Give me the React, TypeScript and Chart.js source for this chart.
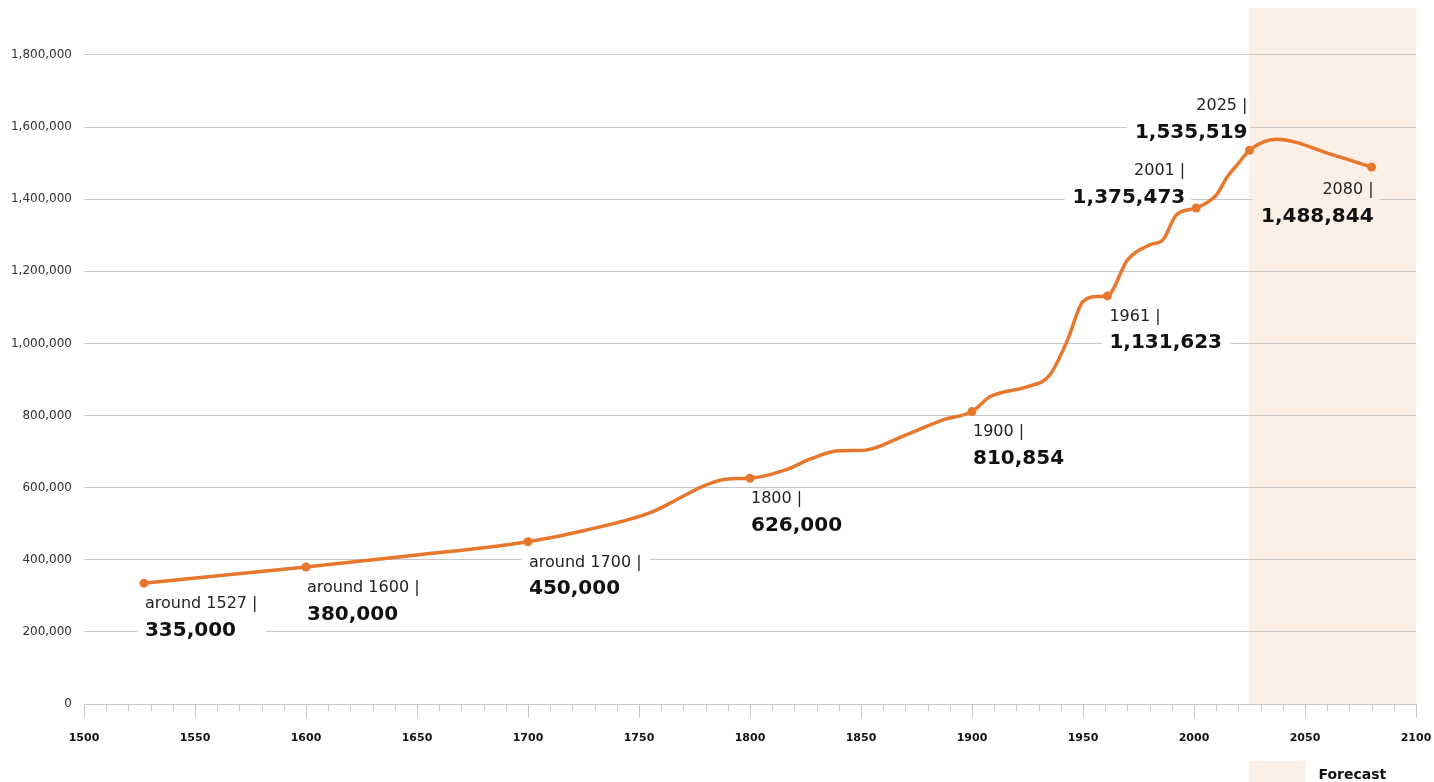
import React, { useEffect, useRef } from "react";
import { Chart, registerables } from "chart.js";

Chart.register(...registerables);

// ---- data ----
const lineYears = [
  1527, 1600, 1650, 1700, 1726, 1756, 1768, 1780, 1790, 1800, 1816, 1827, 1840, 1852, 1868, 1887,
  1900, 1908, 1913, 1925, 1935, 1943, 1950, 1957, 1961, 1970, 1980, 1986, 1992, 2001, 2010, 2015,
  2020, 2025, 2037, 2063, 2080,
];
const lineValues = [
  335000, 380000, 413000, 450000, 482000, 533000, 570000, 607000, 624000, 626000, 649000, 679000,
  702000, 704000, 740000, 788000, 810854, 852000, 863000, 880000, 912000, 1009000, 1116000, 1130000,
  1131623, 1231000, 1273000, 1287000, 1356000, 1375473, 1411000, 1462000, 1499000, 1535519, 1566000,
  1522000, 1488844,
];

const labelYears = [1527, 1600, 1700, 1800, 1900, 1961, 2001, 2025, 2080];
const labelValues = [335000, 380000, 450000, 626000, 810854, 1131623, 1375473, 1535519, 1488844];
const labelTitles = [
  "around 1527",
  "around 1600",
  "around 1700",
  "1800",
  "1900",
  "1961",
  "2001",
  "2025",
  "2080",
];

const forecastStart = 2025;
const forecastEnd = 2100;
const forecastLabel = "Forecast";

const xMin = 1500;
const xMax = 2100;
const xStep = 10;
const xLabelStep = 50;
const yMin = 0;
const yMax = 1930000;
const yTicks = [0, 200000, 400000, 600000, 800000, 1000000, 1200000, 1400000, 1600000, 1800000];

// ---- styles ----
const ORANGE = "#E8772E";
const BAND = "#FCF0E6";
const GRID = "#C8C8C8";
const FONT = "'DejaVu Sans', sans-serif";

// label placement (style only): align, dx, dy of first / second line centre
const labelPlacement: { align: "left" | "right"; dx: number; dy1: number; dy2: number }[] = [
  { align: "left", dx: 1, dy1: 21, dy2: 48 },
  { align: "left", dx: 1, dy1: 21, dy2: 48 },
  { align: "left", dx: 1, dy1: 21, dy2: 47 },
  { align: "left", dx: 1, dy1: 21, dy2: 48 },
  { align: "left", dx: 1, dy1: 20, dy2: 47 },
  { align: "left", dx: 2, dy1: 21, dy2: 47 },
  { align: "right", dx: -11, dy1: -37, dy2: -10 },
  { align: "right", dx: -2, dy1: -44, dy2: -17 },
  { align: "right", dx: 2, dy1: 23, dy2: 50 },
];

const fmt = (v: number) => v.toLocaleString("en-US");

const bandPlugin = {
  id: "band",
  beforeDraw(chart: any) {
    const { ctx, chartArea, scales } = chart;
    const x0 = scales.x.getPixelForValue(forecastStart);
    const x1 = scales.x.getPixelForValue(forecastEnd);
    ctx.save();
    ctx.fillStyle = BAND;
    ctx.fillRect(x0, chartArea.top, x1 - x0, chartArea.bottom - chartArea.top);
    // legend
    ctx.fillRect(x0, 761, 56, 40);
    ctx.fillStyle = "#111";
    ctx.font = `bold 14px ${FONT}`;
    ctx.textBaseline = "middle";
    ctx.textAlign = "left";
    ctx.fillText(forecastLabel, x0 + 69, 775);
    ctx.restore();
  },
};

const minorTickPlugin = {
  id: "minorTicks",
  afterDraw(chart: any) {
    const { ctx, scales, chartArea } = chart;
    const xs = scales.x;
    ctx.save();
    ctx.strokeStyle = GRID;
    ctx.lineWidth = 1;
    for (let v = xMin; v <= xMax; v += xStep) {
      if (v % xLabelStep === 0) continue;
      const px = Math.round(xs.getPixelForValue(v)) + 0.5;
      ctx.beginPath();
      ctx.moveTo(px, chartArea.bottom);
      ctx.lineTo(px, chartArea.bottom + 7);
      ctx.stroke();
    }
    ctx.restore();
  },
};

const labelPlugin = {
  id: "valueLabels",
  beforeDatasetsDraw(chart: any) {
    const { ctx, scales } = chart;
    const bandX = scales.x.getPixelForValue(forecastStart);
    ctx.save();
    labelYears.forEach((yr, i) => {
      const p = labelPlacement[i];
      const px = scales.x.getPixelForValue(yr);
      const py = scales.y.getPixelForValue(labelValues[i]);
      const t1 = `${labelTitles[i]} |`;
      const t2 = fmt(labelValues[i]);
      const f1 = `16px ${FONT}`;
      const f2 = `bold 20px ${FONT}`;
      ctx.font = f1;
      const w1 = ctx.measureText(t1).width;
      ctx.font = f2;
      const w2 = ctx.measureText(t2).width;
      const w = Math.max(w1, w2);
      const tx = px + p.dx;
      const y1 = py + p.dy1;
      const y2 = py + p.dy2;
      const bl = p.align === "left" ? tx - 7 : tx - w - 8;
      let br = p.align === "left" ? tx + w + 8 : tx + 6;
      const inBand = yr > forecastStart;
      if (!inBand && br > bandX) br = bandX;
      ctx.fillStyle = inBand ? BAND : "#FFFFFF";
      ctx.fillRect(bl, y1 - 11, br - bl, y2 - y1 + 25);
      ctx.textBaseline = "middle";
      ctx.textAlign = p.align;
      ctx.fillStyle = "#222";
      ctx.font = f1;
      ctx.fillText(t1, tx, y1);
      ctx.fillStyle = "#111";
      ctx.font = f2;
      ctx.fillText(t2, tx, y2);
    });
    ctx.restore();
  },
};

export default function App() {
  const ref = useRef<HTMLCanvasElement | null>(null);

  useEffect(() => {
    document.body.style.margin = "0";
    const canvas = ref.current;
    if (!canvas) return;
    const chart = new Chart(canvas, {
      type: "line",
      data: {
        datasets: [
          {
            label: "Population",
            data: lineYears.map((x, i) => ({ x, y: lineValues[i] })),
            borderColor: ORANGE,
            borderWidth: 3.5,
            pointRadius: 0,
            cubicInterpolationMode: "monotone",
            fill: false,
            order: 2,
          },
          {
            label: "Markers",
            data: labelYears.map((x, i) => ({ x, y: labelValues[i] })),
            showLine: false,
            pointRadius: 4.5,
            pointBackgroundColor: ORANGE,
            pointBorderWidth: 0,
            borderColor: ORANGE,
            order: 1,
          },
        ],
      },
      options: {
        animation: false,
        responsive: false,
        maintainAspectRatio: false,
        layout: { padding: { left: 8, right: 18, top: 8, bottom: 38 } },
        plugins: {
          legend: { display: false },
          tooltip: { enabled: false },
        },
        scales: {
          x: {
            type: "linear",
            min: xMin,
            max: xMax,
            afterFit: (s: any) => {
              s.height = 40;
              s.paddingLeft = 0;
              s.paddingRight = 0;
            },
            ticks: {
              stepSize: xStep,
              autoSkip: false,
              maxRotation: 0,
              padding: 14,
              color: "#111",
              font: { family: FONT, size: 11, weight: "bold" },
              callback: (v: any) => (Number(v) % xLabelStep === 0 ? String(v) : ""),
            },
            grid: {
              drawOnChartArea: false,
              drawTicks: true,
              tickLength: 14,
              tickColor: (c: any) =>
                c.tick && Number(c.tick.value) % xLabelStep === 0 ? GRID : "rgba(0,0,0,0)",
            },
            border: { display: true, color: GRID },
          },
          y: {
            min: yMin,
            max: yMax,
            afterFit: (s: any) => {
              s.width = 76;
              s.paddingTop = 0;
              s.paddingBottom = 0;
            },
            afterBuildTicks: (s: any) => {
              s.ticks = yTicks.map((v) => ({ value: v }));
            },
            ticks: {
              padding: 12,
              color: "#333",
              font: { family: FONT, size: 12 },
              callback: (v: any) => fmt(Number(v)),
            },
            grid: { color: GRID, drawTicks: false },
            border: { display: false },
          },
        },
      },
      plugins: [bandPlugin, labelPlugin, minorTickPlugin],
    } as any);
    return () => chart.destroy();
  }, []);

  return (
    <div style={{ width: 1434, height: 782 }}>
      <canvas ref={ref} width={1434} height={782} style={{ display: "block" }} />
    </div>
  );
}
